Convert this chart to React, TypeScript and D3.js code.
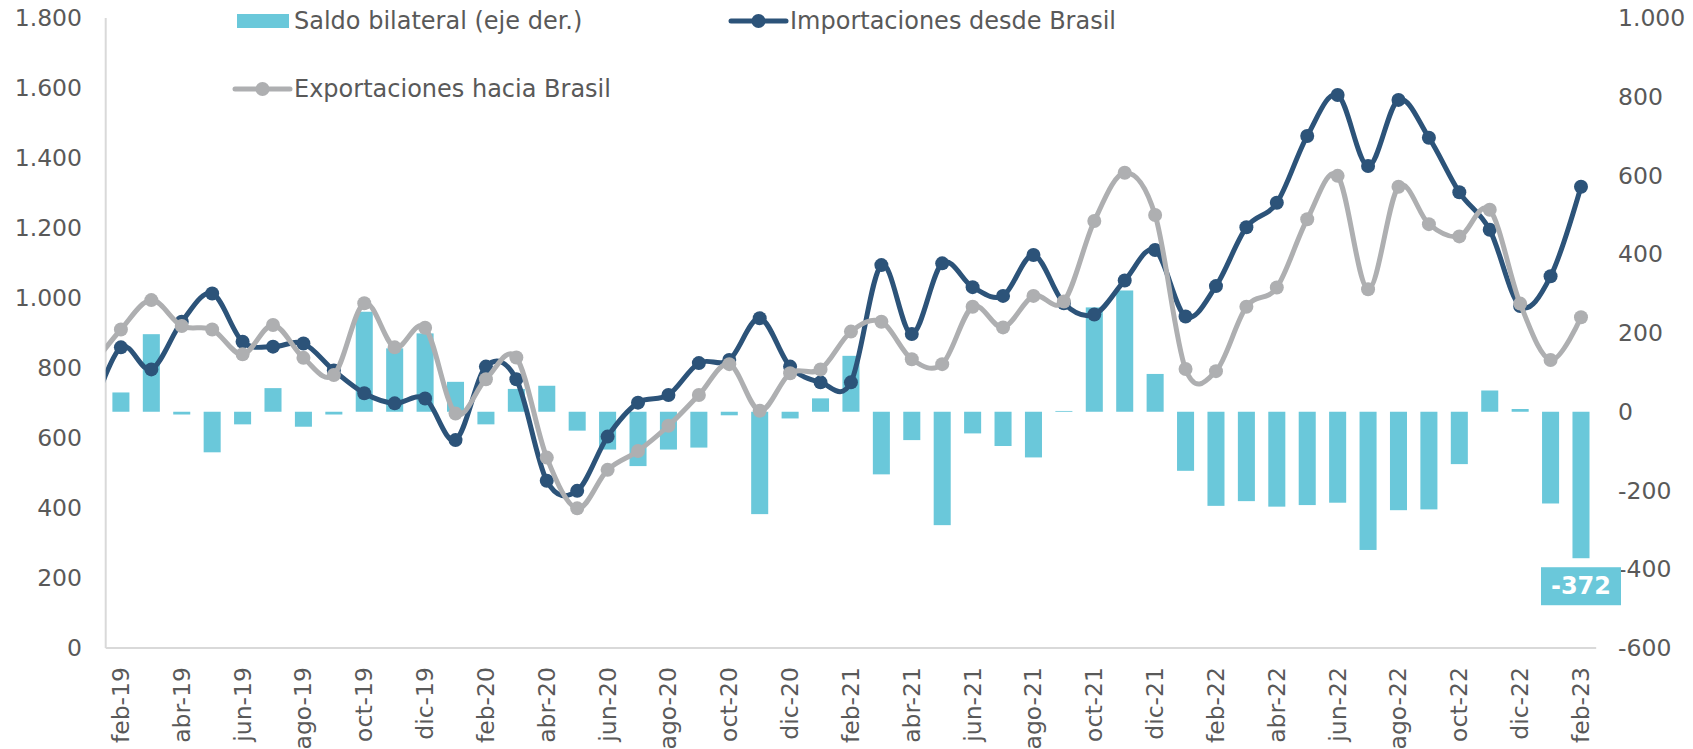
import React from "react";
import * as d3 from "d3";

// ---------- data ----------
const months = [
  "feb-19","mar-19","abr-19","may-19","jun-19","jul-19","ago-19","sep-19","oct-19","nov-19","dic-19",
  "ene-20","feb-20","mar-20","abr-20","may-20","jun-20","jul-20","ago-20","sep-20","oct-20","nov-20","dic-20",
  "ene-21","feb-21","mar-21","abr-21","may-21","jun-21","jul-21","ago-21","sep-21","oct-21","nov-21","dic-21",
  "ene-22","feb-22","mar-22","abr-22","may-22","jun-22","jul-22","ago-22","sep-22","oct-22","nov-22","dic-22",
  "ene-23","feb-23"
];

// Saldo bilateral (right axis)
const saldo = [
  49, 197, -7, -103, -32, 60, -38, -7, 254, 161, 199,
  76, -32, 58, 66, -48, -96, -138, -96, -91, -9, -260, -17,
  34, 142, -159, -72, -288, -55, -87, -116, 2, 265, 308, 96,
  -150, -239, -227, -241, -237, -231, -351, -250, -248, -133, 54, 7,
  -233, -372
];

// Importaciones desde Brasil (left axis)
const importaciones = [
  859, 796, 932, 1013, 875, 861, 870, 793, 728, 699, 713,
  594, 804, 768, 478, 449, 604, 701, 723, 814, 823, 942, 804,
  759, 759, 1094, 897, 1099, 1031, 1006, 1123, 985, 953, 1050, 1137,
  947, 1034, 1202, 1272, 1463, 1580, 1377, 1566, 1458, 1302, 1195, 977,
  1062, 1318
];

// Exportaciones hacia Brasil (left axis)
const exportaciones = [
  910, 994, 920, 910, 839, 923, 829, 780, 985, 859, 915,
  670, 768, 830, 544, 399, 509, 563, 635, 723, 811, 678, 785,
  796, 904, 932, 825, 811, 975, 916, 1006, 990, 1220, 1358, 1237,
  797, 791, 975, 1030, 1225, 1349, 1025, 1318, 1211, 1176, 1252, 984,
  823, 945
];

// value of the month preceding the visible range (ene-19), clipped off the plot
const importacionesPrev = 665;
const exportacionesPrev = 800;

const leftTicks = [0, 200, 400, 600, 800, 1000, 1200, 1400, 1600, 1800];
const rightTicks = [-600, -400, -200, 0, 200, 400, 600, 800, 1000];

const legendLabels = {
  saldo: "Saldo bilateral (eje der.)",
  imp: "Importaciones desde Brasil",
  exp: "Exportaciones hacia Brasil",
};

// ---------- style ----------
const W = 1693;
const H = 749;
const plot = { left: 105.7, right: 1596.2, top: 18, bottom: 648 };
const C_BAR = "#6AC8DA";
const C_IMP = "#2C5379";
const C_EXP = "#AEAFB1";
const C_TEXT = "#595959";
const C_AXIS = "#D9D9D9";
const FONT = "'DejaVu Sans', Verdana, sans-serif";
const LW = 5;
const MR = 7;

const loc = d3.formatLocale({
  decimal: ",",
  thousands: ".",
  grouping: [3],
  currency: ["", ""],
  minus: "-",
});
const fmt = loc.format(",");

export default function App() {
  const x = d3
    .scaleBand<string>()
    .domain(months)
    .range([plot.left, plot.right])
    .paddingInner(0.44)
    .paddingOuter(0.22);
  const cx = (m: string) => (x(m) as number) + x.bandwidth() / 2;
  const yL = d3.scaleLinear().domain([0, 1800]).range([plot.bottom, plot.top]);
  const yR = d3.scaleLinear().domain([-600, 1000]).range([plot.bottom, plot.top]);

  const firstX = cx(months[0]) - x.step();
  const impPts: [number, number][] = [
    [firstX, yL(importacionesPrev)],
    ...months.map((m, i) => [cx(m), yL(importaciones[i])] as [number, number]),
  ];
  const expPts: [number, number][] = [
    [firstX, yL(exportacionesPrev)],
    ...months.map((m, i) => [cx(m), yL(exportaciones[i])] as [number, number]),
  ];
  const line = d3.line().curve(d3.curveCatmullRom.alpha(0));

  const lastIdx = months.length - 1;
  const lastVal = saldo[lastIdx];
  const lblW = 80;
  const lblH = 38;
  const lblX = cx(months[lastIdx]) - lblW / 2;
  const lblY = yR(lastVal) + 9;

  return (
    <svg
      width={W}
      height={H}
      style={{ position: "absolute", left: 0, top: 0, background: "#fff" }}
      fontFamily={FONT}
    >
      <defs>
        <clipPath id="plotClip">
          <rect x={plot.left} y={0} width={plot.right - plot.left + 20} height={H} />
        </clipPath>
      </defs>

      {/* axes lines */}
      <line x1={plot.left} x2={plot.left} y1={plot.top} y2={plot.bottom} stroke={C_AXIS} strokeWidth={2} />
      <line x1={plot.left} x2={plot.right} y1={plot.bottom} y2={plot.bottom} stroke={C_AXIS} strokeWidth={2} />

      {/* left tick labels */}
      {leftTicks.map((t) => (
        <text key={"l" + t} x={82} y={yL(t)} textAnchor="end" dominantBaseline="central" fontSize={23.5} fill={C_TEXT}>
          {fmt(t)}
        </text>
      ))}
      {/* right tick labels */}
      {rightTicks.map((t) => (
        <text key={"r" + t} x={1618} y={yR(t)} textAnchor="start" dominantBaseline="central" fontSize={23.5} fill={C_TEXT}>
          {fmt(t)}
        </text>
      ))}
      {/* x labels */}
      {months.map((m, i) =>
        i % 2 === 0 ? (
          <text
            key={"x" + m}
            transform={`translate(${cx(m)},667) rotate(-90)`}
            textAnchor="end"
            dominantBaseline="central"
            fontSize={23.5}
            fill={C_TEXT}
          >
            {m}
          </text>
        ) : null
      )}

      {/* bars */}
      {months.map((m, i) => {
        const v = saldo[i];
        const y0 = yR(0);
        const y1 = yR(v);
        return (
          <rect
            key={"b" + m}
            x={x(m)}
            width={x.bandwidth()}
            y={Math.min(y0, y1)}
            height={Math.max(0.8, Math.abs(y1 - y0))}
            fill={C_BAR}
          />
        );
      })}

      {/* lines */}
      <g clipPath="url(#plotClip)">
        <path d={line(impPts) as string} fill="none" stroke={C_IMP} strokeWidth={LW} strokeLinejoin="round" />
        {months.map((m, i) => (
          <circle key={"ci" + m} cx={cx(m)} cy={yL(importaciones[i])} r={MR} fill={C_IMP} />
        ))}
        <path d={line(expPts) as string} fill="none" stroke={C_EXP} strokeWidth={LW} strokeLinejoin="round" />
        {months.map((m, i) => (
          <circle key={"ce" + m} cx={cx(m)} cy={yL(exportaciones[i])} r={MR} fill={C_EXP} />
        ))}
      </g>

      {/* data label */}
      <rect x={lblX} y={lblY} width={lblW} height={lblH} fill={C_BAR} />
      <text
        x={lblX + lblW / 2}
        y={lblY + lblH / 2}
        textAnchor="middle"
        dominantBaseline="central"
        fontSize={24}
        fontWeight="bold"
        fill="#fff"
      >
        {String(lastVal)}
      </text>

      {/* legend */}
      <rect x={237} y={14} width={52} height={14} fill={C_BAR} />
      <text x={294} y={21} dominantBaseline="central" fontSize={24} fill={C_TEXT}>
        {legendLabels.saldo}
      </text>

      <line x1={731} x2={786} y1={21} y2={21} stroke={C_IMP} strokeWidth={LW} strokeLinecap="round" />
      <circle cx={758.5} cy={21} r={MR} fill={C_IMP} />
      <text x={790} y={21} dominantBaseline="central" fontSize={24} fill={C_TEXT}>
        {legendLabels.imp}
      </text>

      <line x1={235} x2={290} y1={89} y2={89} stroke={C_EXP} strokeWidth={LW} strokeLinecap="round" />
      <circle cx={262.5} cy={89} r={MR} fill={C_EXP} />
      <text x={294} y={89} dominantBaseline="central" fontSize={24} fill={C_TEXT}>
        {legendLabels.exp}
      </text>
    </svg>
  );
}
